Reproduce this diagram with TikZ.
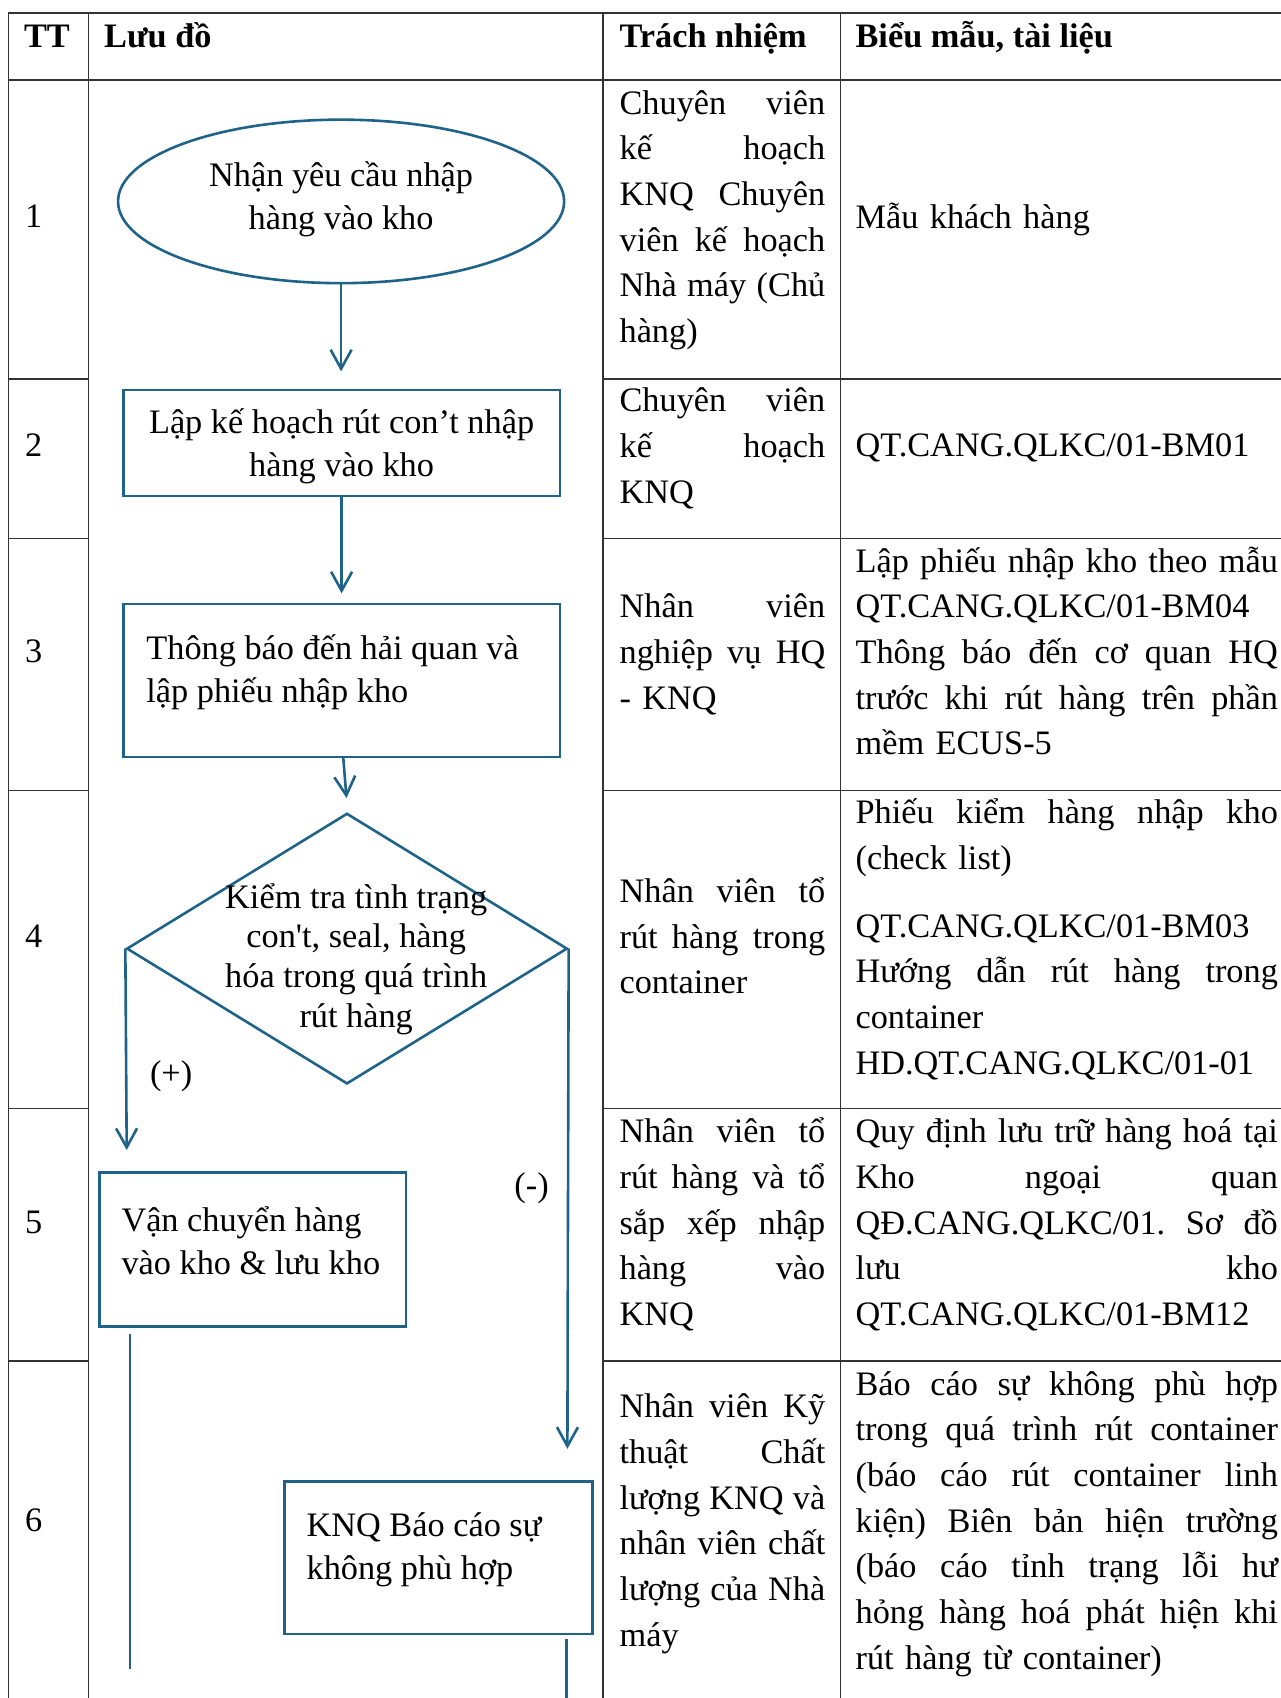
\documentclass[tikz,border=0pt]{standalone}
\usepackage{fontspec}
\setmainfont{Liberation Serif}
\newfontfamily\rawserif{Liberation Serif}
\usetikzlibrary{shapes.geometric,arrows.meta}
\definecolor{fc}{RGB}{31,99,136}
\newcommand\tabfont{\fontsize{34.3pt}{45.7pt}\selectfont}
\newcommand\flowfont{\fontsize{34.3pt}{42.8pt}\selectfont}
\newcommand\diafont{\fontsize{34.3pt}{39.7pt}\selectfont}
\newcommand\JA[1]{\leavevmode\hbox to 205.7pt{\spaceskip=\fontdimen2\font plus 1fil\xspaceskip=\spaceskip\strut #1}}
\newcommand\JB[1]{\leavevmode\hbox to 422.3pt{\spaceskip=\fontdimen2\font plus 1fil\xspaceskip=\spaceskip\strut #1}}
\newcommand\LL[1]{\leavevmode\strut #1}
\begin{document}
\begin{tikzpicture}[x=1pt,y=-1pt,
  grid/.style={draw=black!80, line width=1.3pt},
  flow/.style={draw=fc, line width=2.6pt},
  arr/.style={draw=fc, line width=2.6pt, -{Straight Barb[length=19pt,width=21pt]}},
  box/.style={draw=fc, line width=2.6pt, rectangle, inner sep=0pt},
  ell/.style={draw=fc, line width=2.6pt, ellipse, inner sep=0pt, minimum width=446.1pt, minimum height=163.5pt},
  dia/.style={draw=fc, line width=2.6pt, diamond, inner sep=0pt, minimum width=440.7pt, minimum height=270.7pt},
  ftext/.style={inner sep=0pt, align=center, font=\flowfont},
  dtext/.style={inner sep=0pt, align=center, font=\diafont},
  hd/.style={inner sep=0pt, anchor=base west, font=\tabfont\bfseries},
  num/.style={inner sep=0pt, anchor=west, font=\tabfont},
  tn/.style={inner sep=0pt, anchor=north west, align=left, text width=206pt, font=\tabfont},
  bm/.style={inner sep=0pt, anchor=north west, align=left, text width=423pt, font=\tabfont}]
\useasboundingbox (0,0) rectangle (1281,1698);
\begin{scope}
\clip (0,0) rectangle (1281,1698);
% table grid
\draw[grid] (1300,13) -- (8.7,13) -- (8.7,1720);
\draw[grid] (8.7,80.1) -- (1300,80.1);
\foreach \x in {88.8,603.1,840.3} \draw[grid] (\x,13) -- (\x,1720);
\foreach \y in {379,538.2,790.4,1108.8,1361.1} {
  \draw[grid] (8.7,\y) -- (88.8,\y);
  \draw[grid] (603.1,\y) -- (1300,\y);
}
% header
\node[hd] (h1) at (23.8,47.3) {TT};
\node[hd] (h2) at (104,47.3) {Lưu đồ};
\node[hd] (h3) at (619.4,47.3) {Trách nhiệm};
\node[hd] (h4) at (855.4,47.3) {Biểu mẫu, tài liệu};
% numbers
\node[num] (n1) at (25,216.6) {1};
\node[num] (n2) at (25,445) {2};
\node[num] (n3) at (25,651.8) {3};
\node[num] (n4) at (25,936.6) {4};
\node[num] (n5) at (25,1222.5) {5};
\node[num] (n6) at (25,1520.3) {6};
% responsibility column
\node[tn] (tn1) at (619.4,81.9) {\JA{Chuyên viên}\\\JA{kế hoạch}\\\JA{KNQ Chuyên}\\\JA{viên kế hoạch}\\\JA{Nhà máy (Chủ}\\\LL{hàng)}};
\node[tn] (tn2) at (619.4,379.6) {\JA{Chuyên viên}\\\JA{kế hoạch}\\\LL{KNQ}};
\node[tn] (tn3) at (619.4,585.4) {\JA{Nhân viên}\\\JA{nghiệp vụ HQ}\\\LL{- KNQ}};
\node[tn] (tn4) at (619.4,870.1) {\JA{Nhân viên tổ}\\\JA{rút hàng trong}\\\LL{container}};
\node[tn] (tn5) at (619.4,1110.5) {\JA{Nhân viên tổ}\\\JA{rút hàng và tổ}\\\JA{sắp xếp nhập}\\\JA{hàng vào}\\\LL{KNQ}};
\node[tn] (tn6) at (619.4,1385.6) {\JA{Nhân viên Kỹ}\\\JA{thuật Chất}\\\JA{lượng KNQ và}\\\JA{nhân viên chất}\\\JA{lượng của Nhà}\\\LL{máy}};
% forms column
\node[bm] (bm1) at (855.4,196.6) {\LL{Mẫu khách hàng}};
\node[bm] (bm2) at (855.4,424) {\LL{QT.CANG.QLKC/01-BM01}};
\node[bm] (bm3) at (855.4,539.9) {\JB{Lập phiếu nhập kho theo mẫu}\\\LL{QT.CANG.QLKC/01-BM04}\\\JB{Thông báo đến cơ quan HQ}\\\JB{trước khi rút hàng trên phần}\\\LL{mềm ECUS-5}};
\node[bm] (bm4a) at (855.4,791.1) {\JB{Phiếu kiểm hàng nhập kho}\\\LL{(check list)}};
\node[bm] (bm4b) at (855.4,904.8) {\LL{QT.CANG.QLKC/01-BM03}\\\JB{Hướng dẫn rút hàng trong}\\\LL{container}\\\LL{HD.QT.CANG.QLKC/01-01}};
\node[bm] (bm5) at (855.4,1110.5) {\JB{Quy định lưu trữ hàng hoá tại}\\\JB{Kho ngoại quan}\\\JB{QĐ.CANG.QLKC/01. Sơ đồ}\\\JB{lưu kho}\\\LL{QT.CANG.QLKC/01-BM12}};
\node[bm] (bm6) at (855.4,1362.8) {\JB{Báo cáo sự không phù hợp}\\\JB{trong quá trình rút container}\\\JB{(báo cáo rút container linh}\\\JB{kiện) Biên bản hiện trường}\\\JB{(báo cáo tỉnh trạng lỗi hư}\\\JB{hỏng hàng hoá phát hiện khi}\\\LL{rút hàng từ container)}};
% flowchart shapes
\node[ell] (e1) at (341.1,201.4) {};
\node[ftext] (t1) at (341.1,199.3) {Nhận yêu cầu nhập\\hàng vào kho};
\node[box, minimum width=436.4pt, minimum height=106.1pt] (b2) at (341.6,442.9) {};
\node[ftext] (t2) at (341.6,446.2) {Lập kế hoạch rút con’t nhập\\hàng vào kho};
\node[box, minimum width=436.4pt, minimum height=152.7pt] (b3) at (341.6,680.5) {};
\node[ftext, anchor=west, align=left] (t3) at (146.2,671.9) {Thông báo đến hải quan và\\lập phiếu nhập kho};
\node[dia] (d4) at (347,948.6) {};
\node[dtext] (t4) at (356.2,959) {Kiểm tra tình trạng\\con{\rawserif '}t, seal, hàng\\hóa trong quá trình\\rút hàng};
\node[box, minimum width=306.4pt, minimum height=153.7pt] (b5) at (252.8,1249.6) {};
\node[ftext, anchor=west, align=left] (t5) at (121.3,1240.9) {Vận chuyển hàng\\vào kho \& lưu kho};
\node[box, minimum width=307.5pt, minimum height=152.7pt] (b6) at (438.5,1557.6) {};
\node[ftext, anchor=west, align=left] (t6) at (306.4,1550.1) {KNQ Báo cáo sự\\không phù hợp};
\node[ftext] (plus) at (171.1,1076.3) {(+)};
\node[ftext] (minus) at (531.6,1187.8) {(-)};
% connectors
\coordinate (a1) at (341.1,371.4);
\coordinate (a2) at (341.6,593.4);
\coordinate (a3) at (346.5,798);
\coordinate (a4) at (126.7,1150);
\coordinate (a5) at (567.4,1448.8);
\coordinate (l5a) at (130,1334);
\coordinate (l5b) at (130,1668.6);
\coordinate (l6a) at (566.3,1639.4);
\coordinate (l6b) at (566.3,1710);
\draw[arr] (e1.south) -- (a1);
\draw[arr] (b2.south) -- (a2);
\draw[arr] ([xshift=1.7pt]b3.south) -- (a3);
\draw[arr] (d4.west) -- (a4);
\draw[arr] (d4.east) -- (a5);
\draw[flow] (l5a) -- (l5b);
\draw[flow] (l6a) -- (l6b);
\end{scope}
\end{tikzpicture}
\end{document}
